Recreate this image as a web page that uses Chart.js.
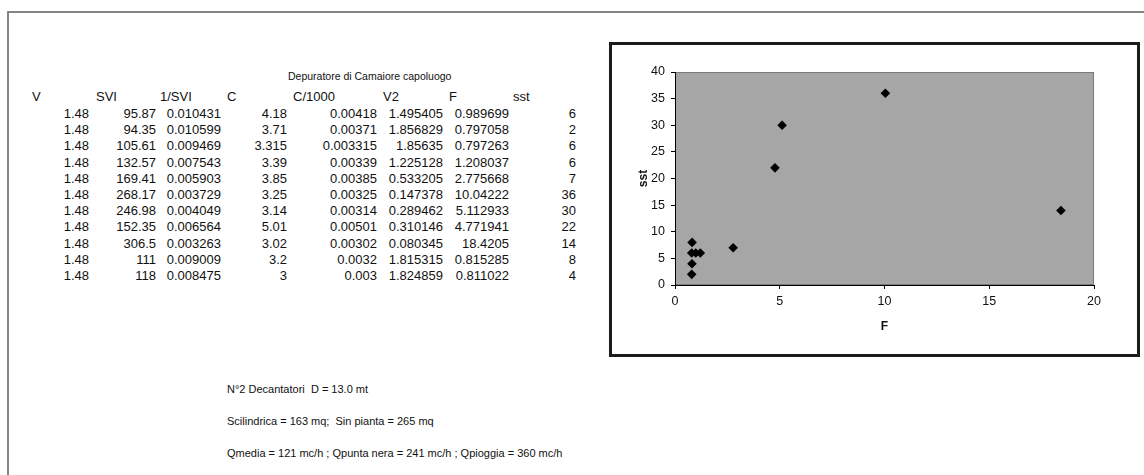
<!DOCTYPE html>
<html>
<head>
<meta charset="utf-8">
<script src="https://cdn.jsdelivr.net/npm/chart.js@4.4.1/dist/chart.umd.min.js"></script>
<style>
  body { margin: 0; background: #fff; font-family: "Liberation Sans", Arial, sans-serif; color: #111; }
  #page { position: absolute; left: 0; top: 0; width: 1144px; height: 475px; overflow: hidden; }
  .frameTop { position: absolute; left: 7px; top: 11px; width: 1137px; height: 2px; background: #858585; }
  .frameLeft { position: absolute; left: 7px; top: 11px; width: 2px; height: 464px; background: #858585; }
  .t { position: absolute; font-size: 13px; line-height: 14px; white-space: nowrap; }
  .s { font-size: 11px; }
  .r { text-align: right; }
  #chartBox { position: absolute; left: 609px; top: 42px; width: 531px; height: 315px;
              border: 3px solid #1c1c1c; box-sizing: border-box; background: #fff; }
  #chart { display: block; }
</style>
</head>
<body>
<div id="page">
  <div class="frameTop"></div>
  <div class="frameLeft"></div>
  <div class="t" style="left:288px; top:69px; font-size:10.5px;">Depuratore di Camaiore capoluogo</div>
  <div id="table"></div>
  <div class="t s" style="left:227px; top:382px;">N°2 Decantatori&nbsp; D = 13.0 mt</div>
  <div class="t s" style="left:227px; top:414px;">Scilindrica = 163 mq;&nbsp; Sin pianta = 265 mq</div>
  <div class="t s" style="left:227px; top:446px;">Qmedia = 121 mc/h ; Qpunta nera = 241 mc/h ; Qpioggia = 360 mc/h</div>
  <div id="chartBox"><canvas id="chart" width="525" height="309"></canvas></div>
</div>
<script>
// table data (one array per column)
const headers = ["V", "SVI", "1/SVI", "C", "C/1000", "V2", "F", "sst"];
const V = [1.48, 1.48, 1.48, 1.48, 1.48, 1.48, 1.48, 1.48, 1.48, 1.48, 1.48];
const SVI = [95.87, 94.35, 105.61, 132.57, 169.41, 268.17, 246.98, 152.35, 306.5, 111, 118];
const invSVI = [0.010431, 0.010599, 0.009469, 0.007543, 0.005903, 0.003729, 0.004049, 0.006564, 0.003263, 0.009009, 0.008475];
const C = [4.18, 3.71, 3.315, 3.39, 3.85, 3.25, 3.14, 5.01, 3.02, 3.2, 3];
const C1000 = [0.00418, 0.00371, 0.003315, 0.00339, 0.00385, 0.00325, 0.00314, 0.00501, 0.00302, 0.0032, 0.003];
const V2 = [1.495405, 1.856829, 1.85635, 1.225128, 0.533205, 0.147378, 0.289462, 0.310146, 0.080345, 1.815315, 1.824859];
const F = [0.989699, 0.797058, 0.797263, 1.208037, 2.775668, 10.04222, 5.112933, 4.771941, 18.4205, 0.815285, 0.811022];
const sst = [6, 2, 6, 6, 7, 36, 30, 22, 14, 8, 4];

// spreadsheet layout
const columns = [V, SVI, invSVI, C, C1000, V2, F, sst];
const headLeft = [32, 96, 160, 227, 293, 383, 449, 513];
const cellRight = [89, 156, 221, 287, 377, 443, 509, 576];
const headTop = 90;
const rowTop = 107;
const rowStep = 16.2;

const table = document.getElementById("table");
headers.forEach((h, c) => {
  const d = document.createElement("div");
  d.className = "t";
  d.style.left = headLeft[c] + "px";
  d.style.top = headTop + "px";
  d.textContent = h;
  table.appendChild(d);
});
columns.forEach((col, c) => {
  col.forEach((v, i) => {
    const d = document.createElement("div");
    d.className = "t r";
    d.style.left = (cellRight[c] - 100) + "px";
    d.style.width = "100px";
    d.style.top = (rowTop + i * rowStep) + "px";
    d.textContent = String(v);
    table.appendChild(d);
  });
});

// gray plot area like the spreadsheet chart
const plotBg = {
  id: "plotBg",
  beforeDraw(chart) {
    const { ctx, chartArea: a } = chart;
    ctx.save();
    ctx.fillStyle = "#a6a6a6";
    ctx.fillRect(a.left, a.top, a.right - a.left, a.bottom - a.top);
    ctx.strokeStyle = "#7a7a7a";
    ctx.lineWidth = 1;
    ctx.strokeRect(a.left + 0.5, a.top + 0.5, a.right - a.left - 1, a.bottom - a.top - 1);
    ctx.restore();
  }
};

const tickFont = { family: "'Liberation Sans', Arial, sans-serif", size: 12.5 };
const titleFont = { family: "'Liberation Sans', Arial, sans-serif", size: 12, weight: "bold" };

new Chart(document.getElementById("chart"), {
  type: "scatter",
  data: {
    datasets: [{
      label: "sst",
      data: F.map((f, i) => ({ x: f, y: sst[i] })),
      pointStyle: "rectRot",
      pointRadius: 4.8,
      pointBackgroundColor: "#000",
      pointBorderColor: "#000",
      pointBorderWidth: 0
    }]
  },
  options: {
    responsive: false,
    animation: false,
    layout: { padding: { top: 27, right: 43, left: 0, bottom: 0 } },
    plugins: { legend: { display: false }, tooltip: { enabled: false } },
    scales: {
      x: {
        type: "linear",
        min: 0,
        max: 20,
        ticks: { stepSize: 5, font: tickFont, color: "#111", padding: 5, maxRotation: 0 },
        grid: { drawOnChartArea: false, drawTicks: true, tickLength: 4, color: "#000" },
        border: { color: "#000", width: 1 },
        title: { display: true, text: "F", font: titleFont, color: "#111", padding: { top: 0, bottom: 20 } },
        afterFit: (s) => { s.height = 69; }
      },
      y: {
        min: 0,
        max: 40,
        ticks: { stepSize: 5, font: tickFont, color: "#111", padding: 6 },
        grid: { drawOnChartArea: false, drawTicks: true, tickLength: 4, color: "#000" },
        border: { color: "#000", width: 1 },
        title: { display: true, text: "sst", font: titleFont, color: "#111", padding: { top: 24, bottom: 0 } },
        afterFit: (s) => { s.width = 63; }
      }
    }
  },
  plugins: [plotBg]
});
</script>
</body>
</html>
